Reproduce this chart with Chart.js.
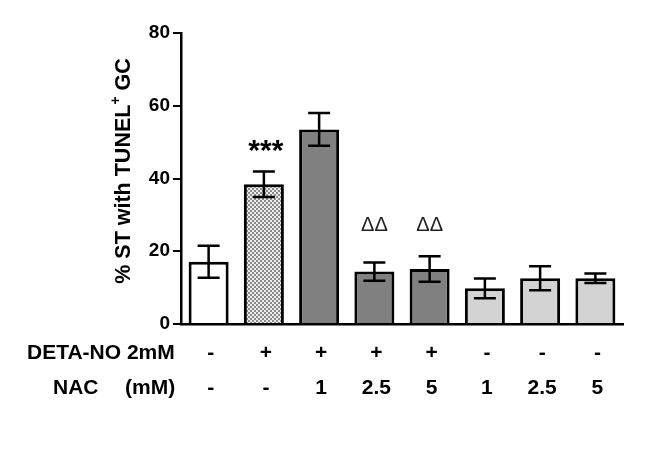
<!DOCTYPE html>
<html>
<head>
<meta charset="utf-8">
<script src="https://cdn.jsdelivr.net/npm/chart.js@4/dist/chart.umd.min.js"></script>
<style>
  html, body { margin: 0; padding: 0; background: #fff; }
  #wrap { width: 653px; height: 456px; }
</style>
</head>
<body>
<div id="wrap"><canvas id="grafico"></canvas></div>
<script>
// data
const categories = ['Ctrl', 'DETA-NO', 'DETA-NO+NAC1', 'DETA-NO+NAC2.5', 'DETA-NO+NAC5', 'NAC1', 'NAC2.5', 'NAC5'];
const means = [17.1, 38.4, 53.5, 14.4, 15.1, 9.8, 12.6, 12.6];
const errors = [4.4, 3.5, 4.5, 2.5, 3.5, 2.7, 3.3, 1.3];
const marks = ['', '***', '', '\u0394\u0394', '\u0394\u0394', '', '', ''];
const detaRow = ['-', '+', '+', '+', '+', '-', '-', '-'];
const nacRow = ['-', '-', '1', '2.5', '5', '1', '2.5', '5'];
const yTicks = [0, 20, 40, 60, 80];

// checker fill for the DETA-NO bar
function checker() {
  const c = document.createElement('canvas');
  c.width = 4; c.height = 4;
  const g = c.getContext('2d');
  g.fillStyle = '#ececec';
  g.fillRect(0, 0, 4, 4);
  g.fillStyle = '#8a8a8a';
  g.fillRect(0, 0, 2, 2);
  g.fillRect(2, 2, 2, 2);
  return g.createPattern(c, 'repeat');
}

const ctx = document.getElementById('grafico').getContext('2d');
const fills = ['#ffffff', checker(), '#808080', '#808080', '#808080', '#d3d3d3', '#d3d3d3', '#d3d3d3'];

const extras = {
  id: 'extras',
  afterDatasetsDraw(chart) {
    const c = chart.ctx;
    const y = chart.scales.y;
    const meta = chart.getDatasetMeta(0);
    c.save();
    c.strokeStyle = '#000';
    c.lineWidth = 2.5;
    meta.data.forEach((bar, i) => {
      const top = y.getPixelForValue(means[i] + errors[i]);
      const bot = y.getPixelForValue(means[i] - errors[i]);
      c.beginPath();
      c.moveTo(bar.x, top); c.lineTo(bar.x, bot);
      c.moveTo(bar.x - 11, top); c.lineTo(bar.x + 11, top);
      c.moveTo(bar.x - 11, bot); c.lineTo(bar.x + 11, bot);
      c.stroke();
    });

    // significance marks
    c.fillStyle = '#000';
    c.textAlign = 'center';
    c.textBaseline = 'alphabetic';
    meta.data.forEach((bar, i) => {
      if (marks[i] === '***') {
        c.font = 'bold 30px Arial';
        c.fillText(marks[i], bar.x + 2, y.getPixelForValue(49.7) + 17);
      } else if (marks[i]) {
        c.font = '20px Arial';
        c.fillStyle = '#222';
        c.fillText(marks[i], bar.x, y.getPixelForValue(27.6) + 7);
        c.fillStyle = '#000';
      }
    });

    // treatment table under the axis
    c.font = 'bold 21px Arial';
    c.textBaseline = 'middle';
    c.textAlign = 'left';
    c.fillText('DETA-NO 2mM', 27, 353);
    c.fillText('NAC', 53, 388);
    c.fillText('(mM)', 125, 388);
    c.textAlign = 'center';
    meta.data.forEach((bar, i) => {
      c.fillText(detaRow[i], bar.x + 2, 353);
      c.fillText(nacRow[i], bar.x + 2, 388);
    });

    // y axis title
    c.translate(124, 171);
    c.rotate(-Math.PI / 2);
    c.textAlign = 'left';
    const big = 'bold 21.5px Arial', small = 'bold 14px Arial';
    const a = '% ST with TUNEL', b = ' GC';
    c.font = big;
    const wa = c.measureText(a).width, wb = c.measureText(b).width;
    c.font = small;
    const wp = c.measureText('+').width;
    const x0 = -(wa + wp + wb) / 2;
    c.font = big;
    c.fillText(a, x0, 0);
    c.fillText(b, x0 + wa + wp, 0);
    c.font = small;
    c.fillText('+', x0 + wa, -8);
    c.restore();
  }
};

new Chart(ctx, {
  type: 'bar',
  data: {
    labels: categories,
    datasets: [{
      data: means,
      backgroundColor: fills,
      borderColor: '#000',
      borderWidth: 3,
      barPercentage: 0.724,
      categoryPercentage: 1
    }]
  },
  options: {
    responsive: true,
    maintainAspectRatio: false,
    animation: false,
    layout: { padding: { left: 0, right: 30, top: 33, bottom: 132 } },
    plugins: { legend: { display: false }, tooltip: { enabled: false } },
    scales: {
      x: {
        grid: { display: false },
        ticks: { display: false },
        border: { color: '#000', width: 2.5 },
        afterFit(scale) { scale.height = 0; }
      },
      y: {
        min: 0,
        max: 80,
        afterFit(scale) { scale.width = 181; },
        afterBuildTicks(scale) { scale.ticks = yTicks.map(v => ({ value: v })); },
        grid: { drawOnChartArea: false, color: '#000', lineWidth: 2, tickLength: 8 },
        border: { color: '#000', width: 2.5 },
        ticks: { color: '#000', padding: 3, font: { family: 'Arial', size: 19, weight: 'bold' } }
      }
    }
  },
  plugins: [extras]
});
</script>
</body>
</html>
